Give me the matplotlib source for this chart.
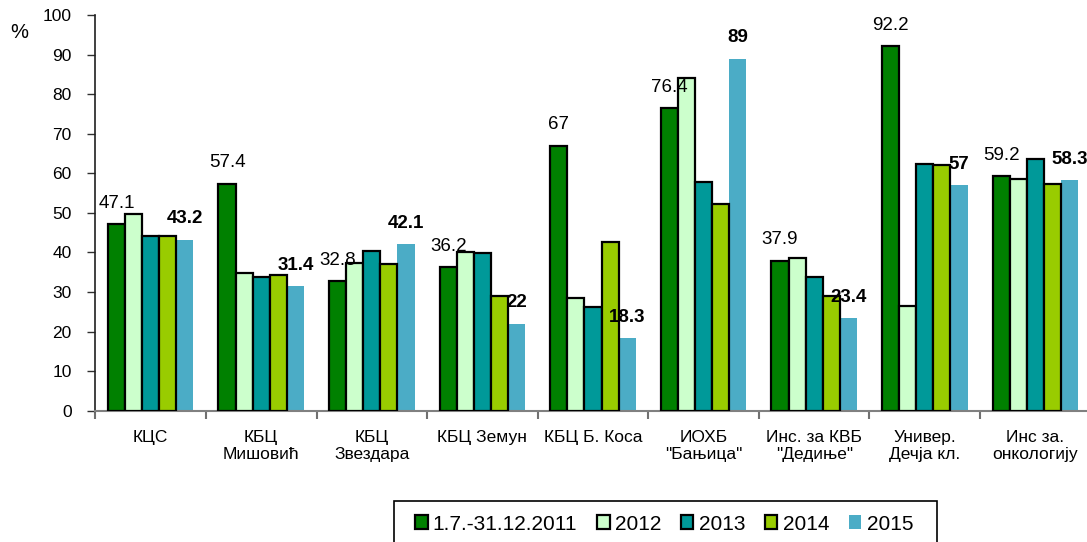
import matplotlib
matplotlib.use("Agg")
import matplotlib.pyplot as plt
from matplotlib.patches import Rectangle
import numpy as np

categories = ["КЦС", "КБЦ\nМишовић", "КБЦ\nЗвездара", "КБЦ Земун", "КБЦ Б. Коса",
              "ИОХБ\n\"Бањица\"", "Инс. за КВБ\n\"Дедиње\"", "Универ.\nДечја кл.", "Инс за.\nонкологију"]
series_names = ["1.7.-31.12.2011", "2012", "2013", "2014", "2015"]
v2011 = [47.1, 57.4, 32.8, 36.2, 67.0, 76.4, 37.9, 92.2, 59.2]
v2012 = [49.7, 34.7, 37.4, 40.0, 28.6, 84.1, 38.5, 26.5, 58.5]
v2013 = [44.2, 33.7, 40.3, 39.8, 26.1, 57.7, 33.9, 62.3, 63.6]
v2014 = [44.2, 34.2, 37.1, 28.9, 42.7, 52.2, 29.1, 62.1, 57.4]
v2015 = [43.2, 31.4, 42.1, 22.0, 18.3, 89.0, 23.4, 57.0, 58.3]
yticks = list(range(0, 101, 10))

colors = ["#008000", "#CCFFCC", "#009999", "#99CC00", "#4BACC6"]
edges = ["black", "black", "black", "black", "none"]

plt.rcParams['font.family'] = ['Liberation Sans', 'DejaVu Sans']

W, H = 1087, 542
fig = plt.figure(figsize=(W / 100, H / 100), dpi=100)
ax = fig.add_axes([95.3 / W, 1 - 410.7 / H, 995.4 / W, 395.7 / H])

x = np.arange(len(categories))
w = 0.1545
allv = [v2011, v2012, v2013, v2014, v2015]
handles = []
for j, vals in enumerate(allv):
    b = ax.bar(x + (j - 2) * w, vals, width=w, color=colors[j],
               edgecolor=edges[j], linewidth=1.6 if j < 4 else 0,
               label=series_names[j], zorder=3 if j < 4 else 2)
    handles.append(b)

for i in range(len(categories)):
    ax.annotate(f"{v2011[i]:g}", (x[i] - 2 * w, v2011[i]), xytext=(0, 15),
                textcoords="offset points", ha="center", va="center", fontsize=13.5,
                zorder=5)
    ax.annotate(f"{v2015[i]:g}", (x[i] + 2 * w, v2015[i]), xytext=(0, 15),
                textcoords="offset points", ha="center", va="center", fontsize=13.5,
                fontweight="bold", zorder=5)

ax.set_xlim(-0.5, len(categories) - 0.5)
ax.set_ylim(0, 100)
ax.set_yticks(yticks)
ax.set_yticklabels([str(t) for t in yticks], fontsize=12.5)
ax.set_xticks(np.arange(len(categories) + 1) - 0.5)
ax.set_xticklabels([])
ax.tick_params(axis='y', direction='out', length=6, width=1, color='#303030', pad=11)
ax.tick_params(axis='x', direction='out', length=6, width=1.5, color='#707070')
for s in ["top", "right"]:
    ax.spines[s].set_visible(False)
ax.spines["left"].set_color('#202020')
ax.spines["left"].set_linewidth(1.2)
ax.spines["bottom"].set_color('#808080')
ax.spines["bottom"].set_linewidth(1.5)

for i, c in enumerate(categories):
    ax.text(x[i], -5.0, c, ha="center", va="top", fontsize=12.5,
            linespacing=1.1)

fig.text(19.5 / W, 1 - 32.5 / H, "%", fontsize=14.5, ha="center", va="center")

# legend box (partially cut off at the bottom of the figure)
fig.patches.append(Rectangle((394 / W, -0.05), (937 - 394) / W, (542 - 501) / H + 0.05,
                             transform=fig.transFigure, fill=False,
                             edgecolor="black", linewidth=1.2))
leg = fig.legend(handles=handles, labels=series_names, loc="center left",
                 bbox_to_anchor=(415 / W, 1 - 524 / H), bbox_transform=fig.transFigure,
                 ncol=5, fontsize=15, frameon=False,
                 handlelength=0.6, handleheight=0.62, handletextpad=0.25,
                 columnspacing=0.95, borderpad=0, borderaxespad=0)

fig.savefig("out.png", dpi=100)
